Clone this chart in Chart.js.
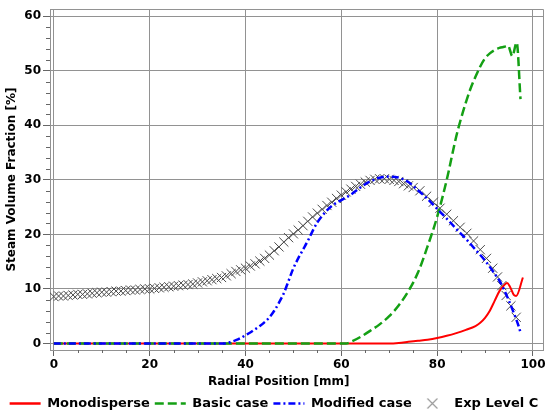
<!DOCTYPE html>
<html><head><meta charset="utf-8">
<script src="https://cdn.jsdelivr.net/npm/chart.js@4.4.0/dist/chart.umd.min.js"></script>
<style>html,body{margin:0;padding:0;background:#fff}canvas{display:block}</style>
</head><body>
<canvas id="c" width="551" height="412"></canvas>
<script>
const seriesNames = ['Monodisperse', 'Basic case', 'Modified case', 'Exp Level C'];
const xTicks = [0, 20, 40, 60, 80, 100];
const yTicks = [0, 10, 20, 30, 40, 50, 60];

const monoX = [0,10,20,30,40,50,60,70,72,74,76,78,80,82,84,86,88,89,90,91,92,93,94,94.6,95.2,96,96.5,97.9];
const monoY = [0,0,0,0,0,0,0,0,0.1,0.3,0.5,0.7,1.0,1.4,1.9,2.5,3.2,3.8,4.7,6.0,7.8,9.6,10.7,11.1,10.4,8.9,8.7,12.1];

const basicX = [0,10,20,30,40,50,60,61,62,64,66,68,70,72,74,76,78,80,82,84,85,86,87,88,89,90,91,92,93,94,94.8,95.7,96.6,97.4];
const basicY = [0,0,0,0,0,0,0,0,0.3,1.2,2.3,3.5,5.0,7.0,9.6,13.0,17.8,23.2,30.0,38.0,41.3,44.2,46.8,48.9,50.8,52.3,53.2,53.8,54.2,54.4,54.6,52.7,55.2,44.8];

const modX = [0,10,20,30,36,37,38,39,40,41,42,43,44,45,46,47,48,49,50,51,52,53,54,55,56,57,58,59,60,62,64,66,68,70,72,74,76,78,80,82,84,86,88,90,92,93,94,95,96,97,97.5];
const modY = [0,0,0,0,0,0.3,0.6,1.0,1.5,2.0,2.6,3.2,3.9,4.8,6.0,7.5,9.2,11.5,13.8,15.6,17.2,18.8,20.6,22.2,23.4,24.4,25.2,25.8,26.3,27.3,28.6,29.7,30.4,30.6,30.4,29.6,28.1,26.5,24.7,22.9,21.0,19.2,17.2,15.2,12.8,11.5,9.8,7.8,5.6,3.2,1.7];

const expX = [0,1,2,3,4,5,6,7,8,9,10,11,12,13,14,15,16,17,18,19,20,21,22,23,24,25,26,27,28,29,30,31,32,33,34,35,36,37,38,39,40,41,42,43,44,45,46,47,48,49,50,51,52,53,54,55,56,57,58,59,60,61,62,63,64,65,66,67,68,69,70,71,72,73,74,75,76.4,77.8,79.2,80.6,82,83.4,84.8,86.2,87.6,89,90.3,91.6,92.6,93.5,94.4,95.4,96.5];
const expY = [8.6,8.7,8.7,8.8,8.9,9.0,9.0,9.1,9.2,9.3,9.4,9.4,9.5,9.6,9.6,9.7,9.8,9.8,9.9,10.0,10.0,10.1,10.2,10.3,10.4,10.5,10.6,10.7,10.8,10.9,11.1,11.3,11.5,11.7,11.9,12.1,12.4,12.8,13.2,13.5,13.8,14.2,14.6,15.1,15.6,16.2,17.0,17.7,18.6,19.4,20.1,20.8,21.6,22.4,23.2,23.9,24.6,25.3,25.9,26.6,27.2,27.8,28.3,28.8,29.2,29.6,29.9,30.1,30.2,30.2,30.1,29.9,29.7,29.3,28.9,28.6,28.0,27.0,25.9,24.8,23.7,22.5,21.3,20.2,18.8,17.2,15.6,13.8,12.2,10.6,8.8,6.9,4.8];

const pts = (xs, ys) => xs.map((x, i) => ({x: x, y: ys[i]}));
const FONT = {family: "'DejaVu Sans', sans-serif", size: 12, weight: 'bold'};
const LFONT = {family: "'DejaVu Sans', sans-serif", size: 13, weight: 'bold'};
const GRID = '#929292';

// legend icon for the experimental marker
const xIcon = document.createElement('canvas');
xIcon.width = 13; xIcon.height = 13;
(function(){ const g = xIcon.getContext('2d'); g.strokeStyle = '#9a9a9a'; g.lineWidth = 1.2;
  g.beginPath(); g.moveTo(1.5,1.5); g.lineTo(11.5,11.5); g.moveTo(11.5,1.5); g.lineTo(1.5,11.5); g.stroke(); })();

const extras = {
  id: 'extras',
  afterDraw(chart) {
    const ctx = chart.ctx, a = chart.chartArea, xs = chart.scales.x, ys = chart.scales.y;
    ctx.save();
    ctx.strokeStyle = GRID; ctx.lineWidth = 1;
    ctx.beginPath();
    ctx.moveTo(Math.round(a.left) + 0.5, Math.round(a.top) + 0.5);
    ctx.lineTo(Math.round(a.right) - 0.5, Math.round(a.top) + 0.5);
    ctx.lineTo(Math.round(a.right) - 0.5, Math.round(a.bottom));
    ctx.stroke();
    ctx.strokeStyle = '#666';
    ctx.beginPath();
    for (let v = 5; v < 100; v += 5) {
      if (v % 20 === 0) continue;
      const px = Math.round(xs.getPixelForValue(v)) + 0.5;
      ctx.moveTo(px, a.bottom); ctx.lineTo(px, a.bottom + 3);
    }
    for (let v = 2; v < 60; v += 2) {
      if (v % 10 === 0) continue;
      const py = Math.round(ys.getPixelForValue(v)) + 0.5;
      ctx.moveTo(a.left - 4, py); ctx.lineTo(a.left, py);
    }
    ctx.stroke();
    ctx.restore();
  }
};

const legendFix = {
  id: 'legendFix',
  afterInit(chart) {
    const lg = chart.legend;
    if (!lg) return;
    const orig = lg.fit.bind(lg);
    lg.fit = function() { orig(); this.height = 20; };
  }
};

const lineCommon = {pointRadius: 0, cubicInterpolationMode: 'monotone'};

new Chart(document.getElementById('c'), {
  type: 'line',
  data: {
    datasets: [
      Object.assign({label: seriesNames[0], data: pts(monoX, monoY), borderColor: '#ff0000', backgroundColor: '#ff0000', borderWidth: 2, order: 2}, lineCommon),
      Object.assign({label: seriesNames[1], data: pts(basicX, basicY), borderColor: '#14a014', backgroundColor: '#14a014', borderWidth: 2.5, borderDash: [9, 4], order: 1}, lineCommon),
      Object.assign({label: seriesNames[2], data: pts(modX, modY), borderColor: '#0000ff', backgroundColor: '#0000ff', borderWidth: 2.5, borderDash: [7, 3, 2, 3], order: 0}, lineCommon),
      {label: seriesNames[3], data: pts(expX, expY), showLine: false, pointStyle: 'crossRot', pointRadius: 6.5, borderColor: '#4a4a4a', backgroundColor: '#4a4a4a', borderWidth: 1, order: 3}
    ]
  },
  options: {
    responsive: false,
    animation: false,
    layout: {padding: {top: 4, right: 3, left: 0, bottom: 0}},
    plugins: {
      tooltip: {enabled: false},
      legend: {
        position: 'bottom',
        labels: {
          font: LFONT, color: '#000', padding: 5, usePointStyle: true, pointStyleWidth: 31, boxHeight: 12,
          generateLabels(chart) {
            return chart.data.datasets.map((ds, i) => ({
              text: ds.label,
              fillStyle: i === 3 ? '#9a9a9a' : ds.borderColor,
              strokeStyle: i === 3 ? '#9a9a9a' : ds.borderColor,
              lineWidth: i === 3 ? 1 : 2.5,
              lineDash: ds.borderDash || [],
              pointStyle: i === 3 ? xIcon : 'line',
              fontColor: '#000',
              hidden: false,
              datasetIndex: i
            }));
          }
        }
      }
    },
    scales: {
      x: {
        type: 'linear', min: -0.8, max: 102.2,
        afterBuildTicks: s => { s.ticks = xTicks.map(v => ({value: v})); },
        afterFit: s => { s.height = 42; },
        grid: {color: GRID, lineWidth: 1, tickLength: 6, tickColor: '#666'},
        border: {display: true, color: GRID},
        ticks: {font: FONT, color: '#000', padding: 2, maxRotation: 0, autoSkip: false},
        title: {display: true, text: 'Radial Position [mm]' + '\u2002'.repeat(6), font: FONT, color: '#000', padding: {top: 0, bottom: 3}}
      },
      y: {
        type: 'linear', min: -1.2, max: 61.3,
        afterBuildTicks: s => { s.ticks = yTicks.map(v => ({value: v})); },
        afterFit: s => { s.width = 50; },
        grid: {color: GRID, lineWidth: 1, tickLength: 7, tickColor: '#666'},
        border: {display: true, color: GRID},
        ticks: {font: FONT, color: '#000', padding: 2, autoSkip: false},
        title: {display: true, text: 'Steam Volume Fraction [%]', font: FONT, color: '#000', padding: {top: 5, bottom: 4}}
      }
    }
  },
  plugins: [extras, legendFix]
});
</script>
</body></html>
